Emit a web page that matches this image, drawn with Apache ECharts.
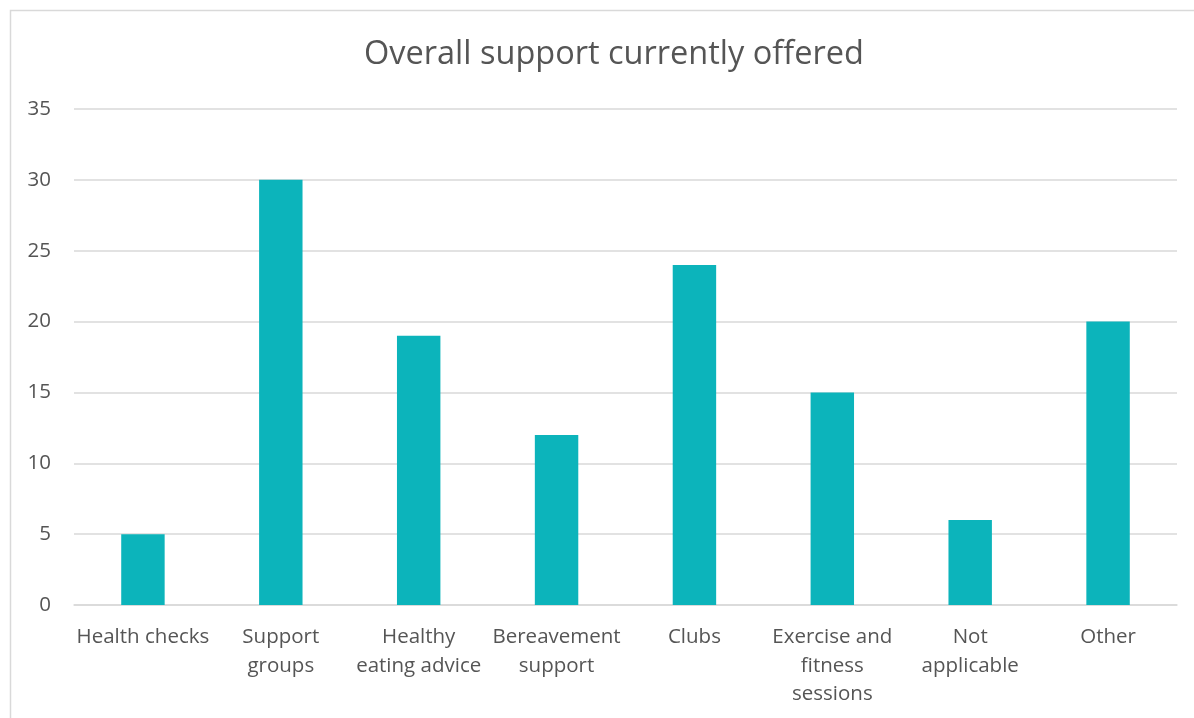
<!DOCTYPE html>
<html>
<head>
<meta charset="utf-8">
<script src="https://cdn.jsdelivr.net/npm/echarts@6/dist/echarts.min.js"></script>
<style>
  html, body { margin: 0; padding: 0; background: #ffffff; }
  #chart { width: 1194px; height: 718px; }
</style>
</head>
<body>
<div id="chart"></div>
<script>
// Kinds of support offered and how many respondents offer each
const categories = [
  'Health checks',
  'Support\ngroups',
  'Healthy\neating advice',
  'Bereavement\nsupport',
  'Clubs',
  'Exercise and\nfitness\nsessions',
  'Not\napplicable',
  'Other'
];
const counts = [5, 30, 19, 12, 24, 15, 6, 20];
const yTicks = { min: 0, max: 35, interval: 5 };

const textColor = '#555555';
const fontFamily = '"Open Sans", "Noto Sans", sans-serif';

const chart = echarts.init(document.getElementById('chart'), null, { renderer: 'canvas' });
chart.setOption({
  backgroundColor: '#ffffff',
  animation: false,
  title: {
    text: 'Overall support currently offered',
    left: 359,
    top: 33,
    textStyle: { color: textColor, fontFamily: fontFamily, fontWeight: 'normal', fontSize: 32.5 }
  },
  graphic: [{
    type: 'rect',
    shape: { x: 10.5, y: 10.5, width: 1400, height: 900 },
    style: { fill: 'none', stroke: '#d9d9d9', lineWidth: 1.5 },
    silent: true
  }],
  grid: { left: 74, right: 17, top: 109, bottom: 113, containLabel: false },
  xAxis: {
    type: 'category',
    data: categories,
    axisLine: { show: true, lineStyle: { color: '#d9d9d9', width: 1.5 } },
    axisTick: { show: false },
    axisLabel: {
      color: textColor, fontFamily: fontFamily, fontSize: 20.5,
      lineHeight: 28.5, margin: 18, interval: 0, align: 'center'
    }
  },
  yAxis: {
    type: 'value',
    min: yTicks.min, max: yTicks.max, interval: yTicks.interval,
    axisLine: { show: false },
    axisTick: { show: false },
    splitLine: { lineStyle: { color: '#d9d9d9', width: 1.5 } },
    axisLabel: { color: textColor, fontFamily: fontFamily, fontSize: 20.5, margin: 23 }
  },
  series: [{
    type: 'bar',
    data: counts,
    barWidth: '31.5%',
    itemStyle: { color: '#0cb4bb' }
  }]
});
</script>
</body>
</html>
